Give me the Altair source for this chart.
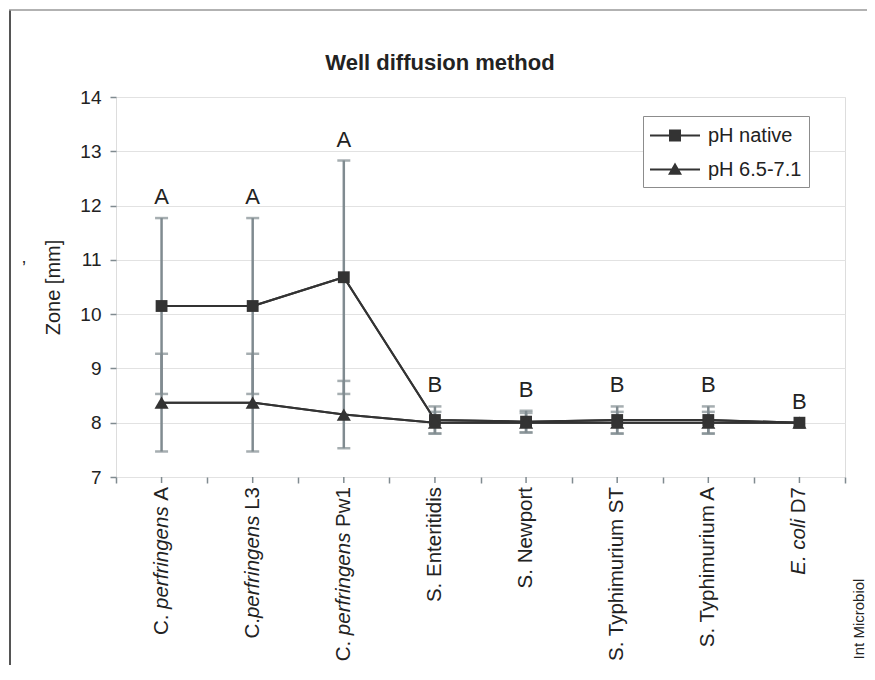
import altair as alt
import pandas as pd

# ---------------- data ----------------
categories = ["C. perfringens A", "C.perfringens L3", "C. perfringens Pw1", "S. Enteritidis",
              "S. Newport", "S. Typhimurium ST", "S. Typhimurium A", "E. coli D7"]
label_prefix = ["C. ", "C.", "C. ", "S. Enteritidis", "S. Newport", "S. Typhimurium ST", "S. Typhimurium A", ""]
label_italic = ["perfringens", "perfringens", "perfringens", "", "", "", "", "E. coli"]
label_suffix = [" A", " L3", " Pw1", "", "", "", "", " D7"]

series_names = ["pH native", "pH 6.5-7.1"]
native_mean = [10.15, 10.15, 10.68, 8.05, 8.02, 8.05, 8.05, 8.00]
native_sd = [1.62, 1.62, 2.15, 0.25, 0.20, 0.25, 0.25, 0.00]
tri_mean = [8.37, 8.37, 8.15, 8.00, 8.00, 8.00, 8.00, 8.00]
tri_sd = [0.90, 0.90, 0.62, 0.20, 0.18, 0.20, 0.20, 0.00]
letters = ["A", "A", "A", "B", "B", "B", "B", "B"]
y_ticks = [7, 8, 9, 10, 11, 12, 13, 14]
chart_title = ["Well diffusion method"]
source_note = ["Int Microbiol"]
stray_mark = ["\u2019"]

# ---------------- styling ----------------
FONT = "Liberation Sans"
DARK = "#333333"
TEXT = "#222222"
GRAY = "#808b90"
W, H = 729, 380
X_FONT = 20.5

# Arial / Liberation Sans advance widths (per 1000 em)
AW = {" ": 278, ".": 278, "A": 667, "C": 722, "D": 722, "E": 667, "L": 556, "N": 722, "P": 667,
      "S": 667, "T": 611, "1": 556, "3": 556, "7": 556, "a": 556, "b": 556, "c": 500, "d": 556,
      "e": 556, "f": 278, "g": 556, "h": 556, "i": 222, "l": 222, "m": 833, "n": 556, "o": 556,
      "p": 556, "r": 333, "s": 500, "t": 278, "u": 556, "w": 722, "y": 500}


def tw(s, size):
    return sum(AW.get(c, 556) for c in s) * size / 1000.0


# ---------------- tables ----------------
rows = []
for i, c in enumerate(categories):
    rows.append(dict(cat=c, idx=i, series=series_names[0], mean=native_mean[i], sd=native_sd[i],
                     lo=native_mean[i] - native_sd[i], hi=native_mean[i] + native_sd[i]))
    rows.append(dict(cat=c, idx=i, series=series_names[1], mean=tri_mean[i], sd=tri_sd[i],
                     lo=tri_mean[i] - tri_sd[i], hi=tri_mean[i] + tri_sd[i]))
df = pd.DataFrame(rows)

lab = pd.DataFrame(dict(cat=categories, letter=letters,
                        top=[max(native_mean[i] + native_sd[i], tri_mean[i] + tri_sd[i])
                             for i in range(len(categories))]))

# rotated labels: segments stacked from the top end downward (text reads bottom-to-top)
label_end = H + 10
seg = []
for i, c in enumerate(categories):
    off = label_end
    for text, style in [(label_suffix[i], "normal"), (label_italic[i], "italic"), (label_prefix[i], "normal")]:
        if text:
            trailing = text[len(text.rstrip()):]
            seg.append(dict(cat=c, text=text.strip(), style=style, ypix=off + tw(trailing, X_FONT)))
            off += tw(text, X_FONT)
segdf = pd.DataFrame(seg)

xenc = alt.X("cat:N", sort=categories,
             scale=alt.Scale(type="band", paddingInner=0, paddingOuter=0),
             axis=alt.Axis(labels=False, title=None, domain=False, ticks=True, tickBand="extent",
                           tickSize=6, tickColor=GRAY, tickWidth=1.5, grid=False))
yenc = alt.Y("mean:Q", scale=alt.Scale(domain=[7, 14], nice=False, zero=False),
             axis=alt.Axis(title="Zone [mm]", values=y_ticks, format="d", grid=True, gridColor="#e2e2e2",
                           gridWidth=1, domain=False, tickSize=6, tickColor=GRAY, tickWidth=1.5,
                           labelFontSize=19, labelColor=TEXT, labelPadding=9, labelFont=FONT,
                           titleFontSize=20, titleFont=FONT, titleFontWeight="normal",
                           titleColor=TEXT, titlePadding=16))

base = alt.Chart(df)

err_df = base.transform_filter("datum.sd > 0")
err_rule = err_df.mark_rule(color=GRAY, strokeWidth=2.5).encode(
    x=alt.X("cat:N", sort=categories), y=alt.Y("lo:Q"), y2="hi:Q")
cap_lo = err_df.mark_tick(color=GRAY, thickness=2.5, size=13, orient="horizontal").encode(
    x=alt.X("cat:N", sort=categories), y=alt.Y("lo:Q"))
cap_hi = err_df.mark_tick(color=GRAY, thickness=2.5, size=13, orient="horizontal").encode(
    x=alt.X("cat:N", sort=categories), y=alt.Y("hi:Q"))

lines = base.mark_line(color=DARK, strokeWidth=2).encode(
    x=xenc, y=yenc, detail="series:N", order="idx:Q")

points = base.mark_point(filled=True, opacity=1, color=DARK).encode(
    x=alt.X("cat:N", sort=categories), y=alt.Y("mean:Q"),
    shape=alt.Shape("series:N", scale=alt.Scale(domain=series_names, range=["square", "triangle-up"]),
                    legend=None),
    size=alt.Size("series:N", scale=alt.Scale(domain=series_names, range=[140, 200]), legend=None))

# legend symbols: a filled 2px bar (the line) plus the marker, all filled outlines
legend_paths = ["M-1,-0.08H3V0.08H-1ZM0.52,-0.48H1.48V0.48H0.52Z",
                "M-1,-0.08H3V0.08H-1ZM1,-0.56L1.56,0.42H0.44Z"]
legend_layer = base.mark_point(filled=True, size=0, color=DARK, opacity=1).encode(
    x=alt.X("cat:N", sort=categories), y=alt.Y("mean:Q"),
    shape=alt.Shape("series:N", scale=alt.Scale(domain=series_names, range=legend_paths),
                    legend=alt.Legend(title=None, orient="none", legendX=527, legendY=19,
                                      symbolSize=625, symbolStrokeWidth=0, symbolFillColor=DARK,
                                      symbolOpacity=1, labelFontSize=20,
                                      labelFont=FONT, labelColor=TEXT, labelOffset=33,
                                      fillColor="white", strokeColor="#8c8c8c", padding=7,
                                      rowPadding=11)))

letters_layer = alt.Chart(lab).mark_text(fontSize=22, font=FONT, color=TEXT, baseline="bottom", dy=-9).encode(
    x=alt.X("cat:N", sort=categories), y=alt.Y("top:Q"), text="letter:N")

center_ticks = alt.Chart(pd.DataFrame(dict(cat=categories))).mark_rule(color=GRAY, strokeWidth=1.5).encode(
    x=alt.X("cat:N", sort=categories), y=alt.value(H), y2=alt.value(H + 6))

xlab_normal = alt.Chart(segdf).transform_filter("datum.style == 'normal'").mark_text(
    angle=270, align="right", baseline="middle", fontSize=X_FONT, font=FONT, color=TEXT).encode(
    x=alt.X("cat:N", sort=categories), y=alt.Y("ypix:Q", scale=None, axis=None), text="text:N")
xlab_italic = alt.Chart(segdf).transform_filter("datum.style == 'italic'").mark_text(
    angle=270, align="right", baseline="middle", fontSize=X_FONT, font=FONT, color=TEXT,
    fontStyle="italic").encode(
    x=alt.X("cat:N", sort=categories), y=alt.Y("ypix:Q", scale=None, axis=None), text="text:N")

title_layer = alt.Chart(pd.DataFrame(dict(t=chart_title))).mark_text(
    fontSize=22, fontWeight="bold", font=FONT, color=TEXT, align="center", baseline="alphabetic").encode(
    x=alt.value(324), y=alt.value(-27), text="t:N")

note = alt.Chart(pd.DataFrame(dict(t=source_note))).mark_text(
    angle=270, align="center", baseline="middle", fontSize=15, font=FONT, color=TEXT).encode(
    x=alt.value(743), y=alt.value(522), text="t:N")

stray = alt.Chart(pd.DataFrame(dict(t=stray_mark))).mark_text(
    fontSize=18, font=FONT, color=TEXT).encode(
    x=alt.value(-92), y=alt.value(172), text="t:N")

frame_left = alt.Chart(pd.DataFrame(dict(t=[0]))).mark_rule(color="#555555", strokeWidth=2).encode(
    x=alt.value(-106), y=alt.value(-87), y2=alt.value(620))
frame_top = alt.Chart(pd.DataFrame(dict(t=[0]))).mark_rule(color="#999999", strokeWidth=1.5).encode(
    x=alt.value(-107), x2=alt.value(800), y=alt.value(-87))

chart = alt.layer(
    lines, err_rule, cap_lo, cap_hi, lines, points, legend_layer, letters_layer,
    center_ticks, xlab_normal, xlab_italic, title_layer, note, stray, frame_left, frame_top
).resolve_scale(shape="independent", size="independent").properties(
    width=W, height=H,
    autosize=alt.AutoSizeParams(type="none"),
    padding={"left": 108, "top": 89, "right": 22, "bottom": 188},
).configure_view(stroke=GRAY, strokeWidth=2.5).configure(font=FONT)

chart.save("out.html", embed_options={"renderer": "svg", "actions": False})
